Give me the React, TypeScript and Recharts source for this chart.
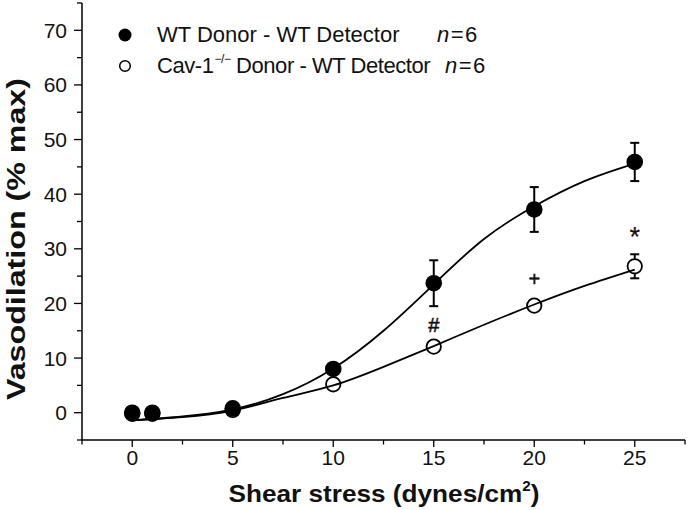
import React from 'react'
import {
    ComposedChart,
    Line,
    Scatter,
    ErrorBar,
    XAxis,
    YAxis,
    Legend,
} from 'recharts'

// ---------- data ----------

const SHEAR = [0, 1, 5, 10, 15, 20, 25]
const WT_MEAN = [0, 0, 0.8, 8.0, 23.7, 37.2, 45.9]
const WT_SEM = [0, 0, 0, 0.8, 4.2, 4.1, 3.5]
const CAV_MEAN = [-0.2, -0.2, 0.5, 5.2, 12.1, 19.6, 26.8]
const CAV_SEM = [0, 0, 0.4, 1.0, 0.8, 0.9, 2.2]

// fitted curves
const FIT_X = [0, 2.5, 5, 7.5, 10, 12.5, 15, 17.5, 20, 22.5, 25]
const WT_FIT = [-1.4, -0.7, 0.6, 3.4, 8.1, 15.0, 23.5, 31.8, 37.8, 42.4, 45.6]
const CAV_FIT = [-1.4, -0.8, 0.4, 2.7, 5.0, 8.4, 12.2, 16.1, 19.8, 23.2, 26.2]

// significance marks
const MARK_X = [15, 20, 25]
const MARK_Y = [16.0, 24.5, 33.5]
const MARK_TEXT = ['#', '+', '*']

const X_TICKS = [-2.5, 0, 2.5, 5, 7.5, 10, 12.5, 15, 17.5, 20, 22.5, 25, 27.5]
const Y_TICKS = [-5, 0, 5, 10, 15, 20, 25, 30, 35, 40, 45, 50, 55, 60, 65, 70, 75]

const wtPoints = SHEAR.map((x, i) => ({ x, y: WT_MEAN[i], err: WT_SEM[i] }))
const cavPoints = SHEAR.map((x, i) => ({ x, y: CAV_MEAN[i], err: CAV_SEM[i] }))
const wtFit = FIT_X.map((x, i) => ({ x, y: WT_FIT[i] }))
const cavFit = FIT_X.map((x, i) => ({ x, y: CAV_FIT[i] }))
const marks = MARK_X.map((x, i) => ({ x, y: MARK_Y[i], label: MARK_TEXT[i] }))

const FONT = '"Liberation Sans", Arial, Helvetica, sans-serif'
const INK = '#111'

// ---------- ticks ----------

function XTick(props: any) {
    const { x, y, payload } = props
    const axisY = y - 9
    const major = payload.value % 5 === 0
    return (
        <g>
            <line x1={x} x2={x} y1={axisY} y2={axisY + (major ? 7 : 4.5)} stroke="#000" strokeWidth={1.3} />
            {major && payload.value >= 0 && (
                <text x={x} y={y} dy="0.76em" textAnchor="middle" fontSize={21} fill={INK} fontFamily={FONT}>
                    {payload.value}
                </text>
            )}
        </g>
    )
}

function YTick(props: any) {
    const { x, y, payload } = props
    const axisX = x + 15
    const major = payload.value % 10 === 0
    return (
        <g>
            <line x1={axisX - (major ? 8 : 5)} x2={axisX} y1={y} y2={y} stroke="#000" strokeWidth={1.3} />
            {major && payload.value >= 0 && payload.value <= 70 && (
                <text x={x} y={y} dy="0.36em" textAnchor="end" fontSize={21} fill={INK} fontFamily={FONT}>
                    {payload.value}
                </text>
            )}
        </g>
    )
}

// ---------- axis titles ----------

function XTitle() {
    return (
        <text
            x={384}
            y={502}
            textAnchor="middle"
            fontSize={24}
            fontWeight="bold"
            fill={INK}
            fontFamily={FONT}
            textLength={311}
            lengthAdjust="spacingAndGlyphs">
            Shear stress (dynes/cm
            <tspan dy={-11} fontSize={14}>2</tspan>
            <tspan dy={11}>)</tspan>
        </text>
    )
}

function YTitle() {
    return (
        <text
            x={25}
            y={239}
            transform="rotate(-90 25 239)"
            textAnchor="middle"
            fontSize={26}
            fontWeight="bold"
            fill={INK}
            fontFamily={FONT}
            textLength={322}
            lengthAdjust="spacingAndGlyphs">
            Vasodilation (% max)
        </text>
    )
}

// ---------- markers ----------

const FilledDot = (p: any) => <circle cx={p.cx} cy={p.cy} r={8.3} fill="#000" />
const OpenDot = (p: any) => <circle cx={p.cx} cy={p.cy} r={7.2} fill="#fff" stroke="#000" strokeWidth={1.8} />
const MarkText = (p: any) => {
    const star = p.payload.label === '*'
    return (
        <text
            x={p.cx}
            y={p.cy}
            dy={star ? '0.62em' : '0.36em'}
            textAnchor="middle"
            fontSize={star ? 27 : 20}
            fill={INK}
            stroke={INK}
            strokeWidth={star ? 0.2 : 0.5}
            fontFamily={FONT}>
            {p.payload.label}
        </text>
    )
}

// ---------- legend ----------

function ChartLegend() {
    const row = { position: 'absolute' as const, fontSize: 22, lineHeight: 1, whiteSpace: 'nowrap' as const, color: INK, fontFamily: FONT }
    return (
        <div style={{ position: 'relative', width: 688, height: 90 }}>
            <svg width={140} height={90} style={{ position: 'absolute', left: 0, top: 0 }}>
                <circle cx={125} cy={35} r={6.5} fill="#000" />
                <circle cx={125} cy={66} r={5.3} fill="#fff" stroke="#000" strokeWidth={1.5} />
            </svg>
            <span style={{ ...row, left: 157, top: 24.4 }}>WT Donor - WT Detector</span>
            <span style={{ ...row, left: 437, top: 24.4, letterSpacing: 1.5 }}>
                <i>n</i>=6
            </span>
            <span style={{ ...row, left: 157, top: 55.4, letterSpacing: -0.45 }}>
                Cav-1
                <span style={{ fontSize: 12, position: 'relative', top: -10, marginLeft: 1 }}>−/−</span> Donor - WT Detector
            </span>
            <span style={{ ...row, left: 445, top: 55.4, letterSpacing: 1.5 }}>
                <i>n</i>=6
            </span>
        </div>
    )
}

export default function App() {
    return (
        <div style={{ position: 'absolute', left: 0, top: 0, width: 688, height: 510, background: '#fff' }}>
            <ComposedChart
                width={688}
                height={510}
                margin={{ top: 3, right: 3, left: 0, bottom: 0 }}
                style={{ fontFamily: FONT }}>
                <XAxis
                    dataKey="x"
                    type="number"
                    domain={[-2.5, 27.5]}
                    ticks={X_TICKS}
                    interval={0}
                    height={70}
                    tickSize={6}
                    tickMargin={3}
                    tickLine={false}
                    tick={<XTick />}
                    axisLine={{ stroke: '#000', strokeWidth: 1.5 }}
                    allowDataOverflow
                    label={<XTitle />}
                />
                <YAxis
                    dataKey="y"
                    type="number"
                    domain={[-5, 75]}
                    ticks={Y_TICKS}
                    interval={0}
                    width={82}
                    tickSize={8}
                    tickMargin={7}
                    tickLine={false}
                    tick={<YTick />}
                    axisLine={{ stroke: '#000', strokeWidth: 1.5 }}
                    allowDataOverflow
                    label={<YTitle />}
                />
                <Legend
                    layout="horizontal"
                    verticalAlign="middle"
                    align="center"
                    content={<ChartLegend />}
                    wrapperStyle={{ left: 0, top: 0, width: 688, height: 90 }}
                />
                <Scatter name="Cav-1 Donor - WT Detector" data={cavPoints} shape={OpenDot} isAnimationActive={false}>
                    <ErrorBar dataKey="err" direction="y" width={4.5} stroke="#000" strokeWidth={2} isAnimationActive={false} />
                </Scatter>
                <Scatter name="WT Donor - WT Detector" data={wtPoints} shape={FilledDot} isAnimationActive={false}>
                    <ErrorBar dataKey="err" direction="y" width={4.5} stroke="#000" strokeWidth={2} isAnimationActive={false} />
                </Scatter>
                <Line data={wtFit} dataKey="y" type="natural" dot={false} activeDot={false} stroke="#000" strokeWidth={1.8} isAnimationActive={false} zIndex={700} />
                <Line data={cavFit} dataKey="y" type="natural" dot={false} activeDot={false} stroke="#000" strokeWidth={1.8} isAnimationActive={false} zIndex={700} />
                <Scatter data={marks} shape={MarkText} isAnimationActive={false} />
            </ComposedChart>
        </div>
    )
}
